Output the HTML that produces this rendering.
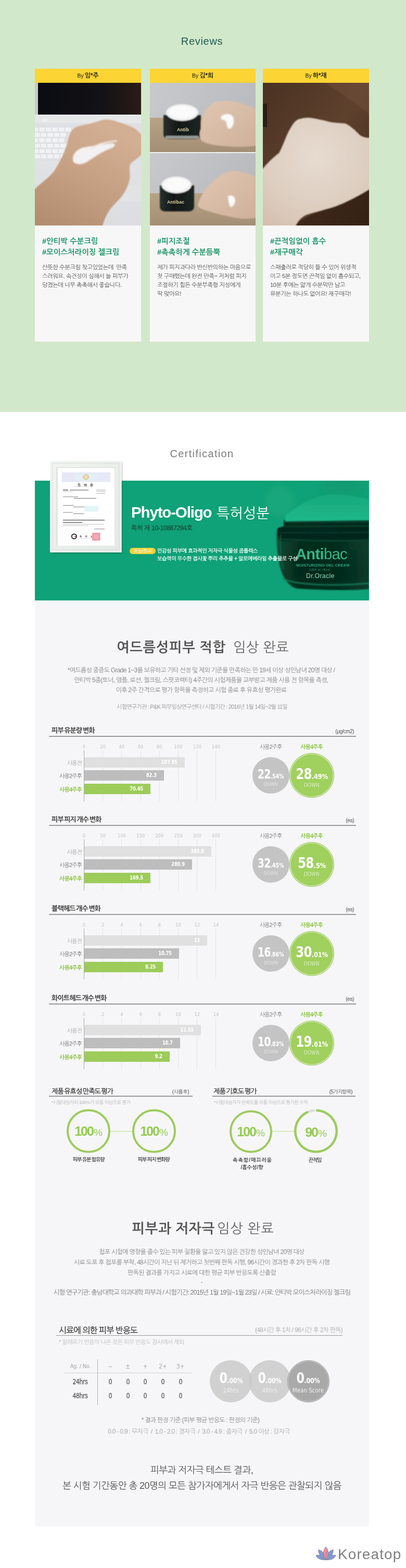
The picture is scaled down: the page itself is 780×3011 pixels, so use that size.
<!DOCTYPE html>
<html lang="ko">
<head>
<meta charset="utf-8">
<title>Antibac Reviews &amp; Certification</title>
<style>
*{margin:0;padding:0;box-sizing:border-box}
html,body{width:780px;height:3011px;overflow:hidden;background:#fff}
body{position:relative;font-family:"Liberation Sans","NanumGothic","Noto Sans CJK KR",sans-serif;color:#555}
.a{position:absolute}
.kr{font-family:"Liberation Sans","NanumGothic","Noto Sans CJK KR",sans-serif}
.num{font-family:"DejaVu Sans","Liberation Sans",sans-serif;font-stretch:condensed}
/* reviews */
#rev{left:0;top:0;width:780px;height:791px;background:#d2e8ca}
#rev h2{position:absolute;left:0;width:776px;top:68px;text-align:center;font-size:20px;font-weight:normal;color:#1d5a51;letter-spacing:0.7px}
.card{position:absolute;top:132px;width:204px;height:524px;background:#f7f7f7}
.card .hd{position:absolute;left:0;top:0;width:100%;height:27px;background:#fcd434;text-align:center;font-size:10.5px;line-height:27px;color:#1a1a1a;word-spacing:-2px}
.card .hd b{font-weight:bold;font-size:12px;margin-left:1px;letter-spacing:-0.2px}
.card .ph{position:absolute;left:0;top:27px;width:100%;height:274px;overflow:hidden}
.card .tags{position:absolute;left:14px;top:321px;font-size:14.5px;font-weight:bold;color:#1a9468;line-height:21px;white-space:nowrap}
.card .txt{position:absolute;left:14px;top:373px;width:186px;font-size:11.2px;line-height:17px;color:#555;white-space:nowrap;letter-spacing:-0.4px}

/* certification */
#certT{left:0;width:776px;top:860px;text-align:center;font-size:20px;color:#7b7b7b;letter-spacing:1.35px}
#banner{left:67px;top:923px;width:642px;height:230px;background:#0fa177;overflow:hidden}
#frame{left:96px;top:885px;width:137px;height:176px;background:#eef1ee;box-shadow:3px 3px 8px rgba(0,0,0,0.25);border:1px solid #e2e6e2}
#frame .mat{position:absolute;left:9px;top:10px;width:117px;height:154px;background:#fbfcfb;box-shadow:inset 1px 1px 3px rgba(0,0,0,0.15)}
#frame .paper{position:absolute;left:15px;top:13px;width:107px;height:149px;background:#fff}
#phyto{left:252px;top:967px;font-size:29.6px;font-weight:bold;color:#fff;white-space:nowrap;letter-spacing:-1.2px;font-family:"Liberation Sans","NanumGothic",sans-serif}
#phyto span{font-weight:normal;font-size:27px;letter-spacing:0;position:absolute;left:164px;top:2px}
#patno{left:252px;top:1006.5px;font-size:12px;color:#1b4a3b;white-space:nowrap;letter-spacing:-0.3px;-webkit-text-stroke:0.25px #1b4a3b}
#badge{left:249px;top:1052px;width:50px;height:12px;border-radius:6px;background:#f3d23b;color:#fff;font-size:9px;line-height:12px;text-align:center;letter-spacing:-0.3px}
#effect{left:302px;top:1050px;font-size:10px;line-height:15px;color:#fff;white-space:nowrap;letter-spacing:-0.35px;-webkit-text-stroke:0.25px #fff}
/* grey panel */
#panel{left:67px;top:1153px;width:642px;height:1778px;background:#f6f6f8}

.c{text-align:center;line-height:20px;white-space:nowrap}
.ct{font-size:13px;font-weight:bold;color:#333;white-space:nowrap;line-height:16px;letter-spacing:-0.8px;word-spacing:-1.5px}
.cu{font-size:10px;color:#555;white-space:nowrap;line-height:14px;text-align:right;width:100px;letter-spacing:-0.5px}
.ul{height:2px;background:#9a9a9a}
.tk{font-family:"DejaVu Sans Condensed","DejaVu Sans",sans-serif;font-size:9.5px;color:#c4c4c4;width:30px;text-align:center;line-height:12px}
.vl{width:1px;background:#e4e4e6}
.ax{width:1px;background:#a9a9a9}
.bar{height:20px}
.b0{background:#e0e0e0}.b1{background:#bdbdbd}.b2{background:#9dcc5a}
.bl{font-size:11px;width:70px;text-align:right;line-height:14px;letter-spacing:-0.9px;white-space:nowrap}
.bv{font-family:"DejaVu Sans Condensed","DejaVu Sans",sans-serif;font-weight:bold;font-size:11px;color:#fff;width:60px;text-align:right;line-height:14px;letter-spacing:-0.2px;transform:scaleX(0.85);transform-origin:100% 50%}
.cl{font-size:11px;width:80px;text-align:center;line-height:14px;letter-spacing:-1px;white-space:nowrap}
.circ{border-radius:50%}
.cg{background:#c4c4c4}
.cgr{background:#a0d05d;border:1.8px solid #92c252;box-shadow:inset 0 0 0 1.3px #e2f1cf}
.cn{font-family:"DejaVu Sans Condensed","DejaVu Sans",sans-serif;font-weight:bold;color:#fff;text-align:center;white-space:nowrap;letter-spacing:-0.8px;transform:scaleX(0.88)}
.cn small{font-size:0.5em;letter-spacing:-0.2px}
.dn{font-family:"DejaVu Sans Condensed","DejaVu Sans",sans-serif;text-align:center;font-size:9px;line-height:10px;letter-spacing:0}


.h1{font-size:26px;color:#555;letter-spacing:0.8px}
.h1 b{color:#555}
.h1 span{color:#666;font-weight:normal;margin-left:8px;letter-spacing:0.4px}
.p12{font-size:12px;color:#8a8a8a;letter-spacing:-0.72px}
.p11{font-size:11px;color:#9a9a9a;letter-spacing:-0.77px}


.ring{border-radius:50%;border:4.5px solid #9dcb5e}
.pc{font-family:"Liberation Sans",sans-serif;font-weight:bold;color:#95cb54;text-align:center;white-space:nowrap;letter-spacing:-2px;font-size:25px;line-height:28px}
.pc small{font-weight:normal;font-size:19px;letter-spacing:0;margin-left:1px}
.hl{height:1px;background:#b7da8f}
.sl{font-size:10px;font-weight:bold;color:#4a4a4a;text-align:center;white-space:nowrap;letter-spacing:-1.2px;word-spacing:0px;line-height:14px;width:120px}
.note{font-size:9px;color:#b5b5b5;white-space:nowrap;letter-spacing:-0.5px;line-height:12px}


.tt{font-size:16px;color:#333;white-space:nowrap;letter-spacing:-1px;line-height:20px;-webkit-text-stroke:0.25px #333}
.tr{font-size:12px;color:#b0b0b0;white-space:nowrap;letter-spacing:-0.75px;line-height:14px;text-align:right;width:200px}
.th{font-family:"DejaVu Sans Condensed","DejaVu Sans",sans-serif;font-size:11px;color:#a8a8a8;text-align:center;width:50px;line-height:14px}
.td{font-family:"DejaVu Sans Condensed","DejaVu Sans",sans-serif;font-weight:normal;font-size:14px;color:#6a6a6a;text-align:center;width:50px;line-height:16px;transform:scaleX(0.88);-webkit-text-stroke:0.45px #6a6a6a}
.gc{border-radius:50%;background:rgba(200,200,200,0.8)}
.gc2{border-radius:50%;background:#a9a9a9;border:1.5px solid #9c9c9c;box-shadow:inset 0 0 0 1px #d5d5d5}
.gn{font-family:"DejaVu Sans Condensed","DejaVu Sans",sans-serif;font-weight:bold;color:#fff;text-align:center;white-space:nowrap;letter-spacing:-0.8px;transform:scaleX(0.88);font-size:28px;line-height:30px}
.gn small{font-size:0.5em;letter-spacing:-0.2px}
.gs{font-family:"DejaVu Sans Condensed","DejaVu Sans",sans-serif;color:#eee;text-align:center;white-space:nowrap;font-size:11.5px;line-height:14px}
</style>
</head>
<body>
<div id="rev" class="a">
  <h2>Reviews</h2>
  <div class="card" style="left:67px">
    <div class="hd">By <b>임*주</b></div>
    <div class="ph" id="ph1"><svg width="204" height="274" viewBox="0 0 204 274" style="display:block">
<defs>
<filter id="bl2" x="-20%" y="-20%" width="140%" height="140%"><feGaussianBlur stdDeviation="1.6"/></filter>
<filter id="bl1" x="-20%" y="-20%" width="140%" height="140%"><feGaussianBlur stdDeviation="0.8"/></filter>
<linearGradient id="scr1" x1="0" x2="1"><stop offset="0" stop-color="#0b0c12"/><stop offset="0.6" stop-color="#121116"/><stop offset="1" stop-color="#2a1b16"/></linearGradient>
<linearGradient id="sk1" x1="0.7" y1="0.1" x2="0.2" y2="1"><stop offset="0" stop-color="#d2ae92"/><stop offset="0.45" stop-color="#c7a184"/><stop offset="1" stop-color="#b38d70"/></linearGradient>
<linearGradient id="lap1" x1="0" y1="0" x2="0" y2="1"><stop offset="0" stop-color="#e8e9eb"/><stop offset="1" stop-color="#dcdde0"/></linearGradient>
</defs>
<rect width="204" height="274" fill="url(#lap1)"/>
<rect x="0" y="0" width="6" height="62" fill="#c9cacc"/>
<rect x="6" y="0" width="198" height="61" fill="url(#scr1)"/>
<rect x="0" y="61" width="204" height="15" fill="#e6e7e9"/>
<rect x="14" y="69" width="10" height="6" rx="1.5" fill="#eeeff1"/>
<rect x="0" y="78" width="204" height="72" fill="#dfe0e3"/>
<rect x="-4.0" y="86.0" width="10.5" height="7.5" rx="1" fill="#f1f2f4"/><rect x="8.5" y="86.0" width="10.5" height="7.5" rx="1" fill="#f1f2f4"/><rect x="21.0" y="86.0" width="10.5" height="7.5" rx="1" fill="#f1f2f4"/><rect x="33.5" y="86.0" width="10.5" height="7.5" rx="1" fill="#f1f2f4"/><rect x="46.0" y="86.0" width="10.5" height="7.5" rx="1" fill="#f1f2f4"/><rect x="58.5" y="86.0" width="10.5" height="7.5" rx="1" fill="#f1f2f4"/><rect x="-1.0" y="96.3" width="10.5" height="7.5" rx="1" fill="#f1f2f4"/><rect x="11.5" y="96.3" width="10.5" height="7.5" rx="1" fill="#f1f2f4"/><rect x="24.0" y="96.3" width="10.5" height="7.5" rx="1" fill="#f1f2f4"/><rect x="36.5" y="96.3" width="10.5" height="7.5" rx="1" fill="#f1f2f4"/><rect x="49.0" y="96.3" width="10.5" height="7.5" rx="1" fill="#f1f2f4"/><rect x="-4.0" y="106.6" width="10.5" height="7.5" rx="1" fill="#f1f2f4"/><rect x="8.5" y="106.6" width="10.5" height="7.5" rx="1" fill="#f1f2f4"/><rect x="21.0" y="106.6" width="10.5" height="7.5" rx="1" fill="#f1f2f4"/><rect x="33.5" y="106.6" width="10.5" height="7.5" rx="1" fill="#f1f2f4"/><rect x="46.0" y="106.6" width="10.5" height="7.5" rx="1" fill="#f1f2f4"/><rect x="-1.0" y="116.9" width="10.5" height="7.5" rx="1" fill="#f1f2f4"/><rect x="11.5" y="116.9" width="10.5" height="7.5" rx="1" fill="#f1f2f4"/><rect x="24.0" y="116.9" width="10.5" height="7.5" rx="1" fill="#f1f2f4"/><rect x="36.5" y="116.9" width="10.5" height="7.5" rx="1" fill="#f1f2f4"/><rect x="49.0" y="116.9" width="10.5" height="7.5" rx="1" fill="#f1f2f4"/><rect x="-4.0" y="127.2" width="10.5" height="7.5" rx="1" fill="#f1f2f4"/><rect x="8.5" y="127.2" width="10.5" height="7.5" rx="1" fill="#f1f2f4"/><rect x="21.0" y="127.2" width="10.5" height="7.5" rx="1" fill="#f1f2f4"/><rect x="33.5" y="127.2" width="10.5" height="7.5" rx="1" fill="#f1f2f4"/><rect x="46.0" y="127.2" width="10.5" height="7.5" rx="1" fill="#f1f2f4"/><rect x="-1.0" y="137.5" width="10.5" height="7.5" rx="1" fill="#f1f2f4"/><rect x="11.5" y="137.5" width="10.5" height="7.5" rx="1" fill="#f1f2f4"/><rect x="24.0" y="137.5" width="10.5" height="7.5" rx="1" fill="#f1f2f4"/><rect x="36.5" y="137.5" width="10.5" height="7.5" rx="1" fill="#f1f2f4"/><rect x="49.0" y="137.5" width="10.5" height="7.5" rx="1" fill="#f1f2f4"/>
<rect x="165" y="196" width="40" height="32" fill="#e2e3e5"/>
<g filter="url(#bl1)">
<path d="M0,204 C12,192 28,182 38,168 C48,152 56,136 62,118 C66,98 70,88 82,84 C95,80 112,78 124,73 C134,69 146,70 156,74 C168,78 182,82 192,88 C200,93 204,100 212,106 L212,132 C200,142 190,150 184,155 C180,162 184,172 182,185 C179,200 172,214 158,228 C146,240 136,250 128,282 L-8,282 L-8,204 Z" fill="url(#sk1)"/>
</g>
<g filter="url(#bl2)">
<path d="M74,152 C70,140 78,128 94,124 C110,121 130,118 146,116 C156,115 156,121 148,125 C132,131 118,140 106,148 C96,156 82,160 74,152 Z" fill="#f4f1f2"/>
<path d="M108,126 C120,118 140,112 158,112" stroke="#efe4e0" stroke-width="3" fill="none"/>
</g>
</svg></div>
    <div class="tags">#안티박 수분크림<br>#모이스처라이징 젤크림</div>
    <div class="txt">산뜻한 수분크림 찾고있었는데&nbsp; 만족<br>스러워요. 속건성이 심해서 늘 피부가<br>당겼는데 너무 촉촉해서 좋습니다.</div>
  </div>
  <div class="card" style="left:288px;width:203px">
    <div class="hd">By <b>김*희</b></div>
    <div class="ph" id="ph2"><svg width="204" height="274" viewBox="0 0 204 274" style="display:block">
<defs>
<filter id="b2a" x="-20%" y="-20%" width="140%" height="140%"><feGaussianBlur stdDeviation="1"/></filter>
<filter id="b2b" x="-20%" y="-20%" width="140%" height="140%"><feGaussianBlur stdDeviation="1.8"/></filter>
<linearGradient id="wall2" x1="0" y1="0" x2="1" y2="0.3"><stop offset="0" stop-color="#c8c9cc"/><stop offset="1" stop-color="#babbbe"/></linearGradient>
<linearGradient id="tab2" x1="0" y1="0" x2="0" y2="1"><stop offset="0" stop-color="#b8a386"/><stop offset="1" stop-color="#a48e74"/></linearGradient>
<linearGradient id="sk2" x1="0" y1="0" x2="1" y2="1"><stop offset="0" stop-color="#e0c7b2"/><stop offset="1" stop-color="#cfb09a"/></linearGradient>
<linearGradient id="jar2" x1="0" y1="0" x2="1" y2="0"><stop offset="0" stop-color="#27302d"/><stop offset="0.4" stop-color="#111816"/><stop offset="1" stop-color="#1e2623"/></linearGradient>
</defs>
<rect width="204" height="133" fill="url(#wall2)"/>
<rect y="67" width="204" height="66" fill="url(#tab2)"/>
<g filter="url(#b2a)">
<path d="M26,62 L98,62 L98,100 C98,106 92,108 86,108 L38,108 C31,108 26,105 26,99 Z" fill="url(#jar2)"/>
<ellipse cx="62" cy="57" rx="31" ry="16" fill="#f2f2f2"/>
<ellipse cx="62" cy="56" rx="26" ry="12" fill="#fbfbfb"/>
<rect x="30" y="102" width="64" height="5" rx="2" fill="#cfd2d0" opacity="0.7"/>
<path d="M98,77 C100,62 108,48 122,38 C136,33 156,34 172,38 C186,43 198,48 212,52 L212,120 C190,123 170,124 150,122 C128,121 110,118 100,112 C94,104 95,95 98,88 Z" fill="url(#sk2)"/>
</g>
<text x="52" y="93" font-family="Liberation Sans,sans-serif" font-size="9" font-weight="bold" fill="#d8cf9a">Antib</text>
<g filter="url(#b2b)"><path d="M136,66 C142,58 156,58 160,66 C163,74 160,86 154,88 C148,90 148,80 146,74 C142,70 136,72 136,66 Z" fill="#fafafa"/></g>
<rect y="133" width="204" height="2" fill="#f2f2f2"/>
<rect y="135" width="204" height="77" fill="url(#wall2)"/>
<rect y="212" width="204" height="62" fill="url(#tab2)"/>
<g filter="url(#b2a)">
<path d="M19,197 L85,197 L85,238 C85,244 80,247 74,247 L30,247 C24,247 19,244 19,238 Z" fill="url(#jar2)"/>
<ellipse cx="51" cy="196" rx="29" ry="16" fill="#f2f2f2"/>
<ellipse cx="51" cy="195" rx="24" ry="12" fill="#fbfbfb"/>
<path d="M92,234 C96,222 104,206 118,192 C130,180 146,170 160,169 C176,169 192,176 212,184 L212,258 C190,262 172,262 154,257 C136,254 116,248 102,243 C95,240 92,238 92,234 Z" fill="url(#sk2)"/>
</g>
<text x="33" y="232" font-family="Liberation Sans,sans-serif" font-size="9" font-weight="bold" fill="#d8cf9a">Antibac</text>
<g filter="url(#b2b)"><path d="M150,218 C156,214 164,218 164,226 C163,234 158,240 154,238 C152,232 150,226 150,218 Z" fill="#fafafa"/></g>
</svg></div>
    <div class="tags">#피지조절<br>#촉촉하게 수분듬뿍</div>
    <div class="txt">제가 피지과다라 반신반의하는 마음으로<br>첫 구매했는데 완전 만족~ 저처럼 피지<br>조절하기 힘든 수분부족형 지성에게<br>딱 맞아요!</div>
  </div>
  <div class="card" style="left:505px">
    <div class="hd">By <b>하*재</b></div>
    <div class="ph" id="ph3"><svg width="204" height="274" viewBox="0 0 204 274" style="display:block">
<defs>
<filter id="b3a" x="-20%" y="-20%" width="140%" height="140%"><feGaussianBlur stdDeviation="1.2"/></filter>
<linearGradient id="wood3" x1="0" y1="0" x2="1" y2="1"><stop offset="0" stop-color="#4a3122"/><stop offset="0.5" stop-color="#5e412d"/><stop offset="1" stop-color="#43291b"/></linearGradient>
<radialGradient id="sk3" cx="0.5" cy="0.35" r="0.8"><stop offset="0" stop-color="#e6dbd0"/><stop offset="0.6" stop-color="#ddcdbf"/><stop offset="1" stop-color="#d3bcaa"/></radialGradient>
</defs>
<rect width="204" height="274" fill="url(#wood3)"/><path d="M60,274 C80,255 130,240 204,205 L204,274 Z" fill="#2a1a11" opacity="0.55"/>
<path d="M120,0 L204,0 L204,60 C180,40 150,20 120,0 Z" fill="#7a5a44" opacity="0.35"/><rect x="0" y="40" width="8" height="45" fill="#1c140f" opacity="0.7"/>
<g filter="url(#b3a)">
<path d="M0,165 C12,150 24,140 31,135 C40,118 46,98 52,89 C58,78 64,70 72,69 C80,67 88,66 96,68 C106,70 114,71 124,74 C134,77 146,77 158,78 C168,82 178,92 187,101 C194,105 200,106 212,106 L212,200 C200,208 186,216 176,221 C160,229 145,236 135,239 C120,244 100,248 83,254 C74,258 66,266 60,282 L-8,282 L-8,165 Z" fill="url(#sk3)"/>
</g>
</svg></div>
    <div class="tags">#끈적임없이 흡수<br>#재구매각</div>
    <div class="txt">스패출러로 적당히 뜰 수 있어 위생적<br>이고 5분 정도면 끈적임 없이 흡수되고,<br>10분 후에는 얇게 수분막만 남고<br>유분기는 하나도 없어요! 재구매각!</div>
  </div>
</div>

<div id="certT" class="a">Certification</div>
<div id="banner" class="a"><svg class="a" style="left:440px;top:0px" width="202" height="230" viewBox="440 0 202 230">
<defs>
<filter id="jb1" x="-20%" y="-20%" width="140%" height="140%"><feGaussianBlur stdDeviation="6"/></filter>
<filter id="jb2" x="-20%" y="-20%" width="140%" height="140%"><feGaussianBlur stdDeviation="1.2"/></filter>
<linearGradient id="jbody" x1="0" y1="0" x2="1" y2="0"><stop offset="0" stop-color="#0b4f3a"/><stop offset="0.25" stop-color="#06301f"/><stop offset="0.7" stop-color="#063222"/><stop offset="1" stop-color="#094230"/></linearGradient>
<linearGradient id="jbody2" x1="0" y1="0" x2="0" y2="1"><stop offset="0" stop-color="#000" stop-opacity="0"/><stop offset="0.75" stop-color="#000" stop-opacity="0.15"/><stop offset="1" stop-color="#000" stop-opacity="0.05"/></linearGradient>
<linearGradient id="jcream" x1="0" y1="0" x2="0" y2="1"><stop offset="0" stop-color="#16a97c"/><stop offset="1" stop-color="#20b88a"/></linearGradient>
</defs>
<g filter="url(#jb1)">
<ellipse cx="470" cy="40" rx="30" ry="30" fill="#18a87e" opacity="0.7"/>
<ellipse cx="590" cy="10" rx="40" ry="25" fill="#0b9a70" opacity="0.6"/>
</g>
<g filter="url(#jb2)">
<path d="M465,96 C468,90 474,88 480,88 L642,88 L642,208 C620,211 560,211 502,207 C484,201 474,181 470,161 C466,141 463,114 465,96 Z" fill="url(#jbody)"/>
<path d="M465,96 C468,90 474,88 480,88 L642,88 L642,208 C620,211 560,211 502,207 C484,201 474,181 470,161 C466,141 463,114 465,96 Z" fill="url(#jbody2)"/>
<path d="M466,92 C470,89 476,88 482,88 L642,88 L642,116 L470,116 C466,110 465,100 466,92 Z" fill="#05281b"/>
<path d="M478,76 L642,74 L642,90 L478,92 Z" fill="#052a1c"/>
<path d="M478,80 L642,79" stroke="#0e4f39" stroke-width="1.6"/>
<path d="M479,88 L642,87" stroke="#0c4a35" stroke-width="1.6"/>
<path d="M470,100 L642,99" stroke="#0b4331" stroke-width="1.4"/>
<path d="M469,112 C520,116 600,116 642,114" stroke="#0f523c" stroke-width="1.4" fill="none"/>
<path d="M482,66 C500,52 530,30 565,27 C590,25 615,30 642,36 L642,76 L481,78 Z" fill="url(#jcream)"/>
<path d="M476,188 C500,201 580,203 642,197" stroke="#1a7a5a" stroke-width="3" fill="none" opacity="0.8"/>
<path d="M472,104 C470,124 472,150 478,170" stroke="#1b7a5b" stroke-width="2" fill="none" opacity="0.6"/>
</g>
<text x="501" y="151" font-family="Liberation Sans,sans-serif" font-size="29" fill="#36b487" letter-spacing="-0.6"><tspan font-weight="bold">Anti</tspan><tspan font-weight="normal">bac</tspan></text>
<text x="502" y="164.5" font-family="Liberation Sans,sans-serif" font-size="7.4" font-weight="bold" fill="#2ea47b" letter-spacing="0.1">MOISTURIZING GEL CREAM</text>
<text x="527" y="173" font-family="Liberation Sans,sans-serif" font-size="5" fill="#3a9a78">1.69 fl. oz. / 50 ml</text>
<text x="521" y="186.5" font-family="Liberation Sans,sans-serif" font-size="12.5" fill="#8fd1b6" letter-spacing="0.2">Dr.Oracle</text>
</svg></div>
<svg class="a" style="left:96px;top:884px" width="140" height="180" viewBox="0 0 140 180">
<defs>
<filter id="fsh" x="-20%" y="-20%" width="140%" height="140%"><feGaussianBlur stdDeviation="2.2"/></filter>
<linearGradient id="fr" x1="0" y1="0" x2="1" y2="1"><stop offset="0" stop-color="#f1f4f1"/><stop offset="1" stop-color="#e4e9e4"/></linearGradient>
</defs>
<rect x="3" y="3" width="136" height="175" fill="#000" opacity="0.28" filter="url(#fsh)"/>
<rect x="0.5" y="1" width="136.5" height="175" fill="url(#fr)"/>
<rect x="0.5" y="1" width="136.5" height="175" fill="none" stroke="#fafcfa" stroke-width="1.5"/>
<rect x="4.5" y="5.5" width="128" height="166" fill="none" stroke="#d9dfd9" stroke-width="1"/>
<rect x="12" y="13" width="113" height="152" fill="#dfe4df"/>
<rect x="14.5" y="14.5" width="110" height="150" fill="#f6f8f6"/>
<rect x="16" y="15.5" width="107" height="147.5" fill="#fff"/>
<rect x="22.6" y="23" width="93.5" height="18.5" fill="#e7e8f7"/><ellipse cx="69" cy="32" rx="24" ry="8" fill="#e3eef6"/><circle cx="69" cy="32" r="5.2" fill="#e9dcae" stroke="#c8b27a" stroke-width="0.8"/><text x="69" y="50" font-family="Liberation Sans,NanumGothic,sans-serif" font-size="6.5" font-weight="bold" fill="#333" text-anchor="middle" letter-spacing="2">특 허 증</text><rect x="44.0" y="49.7" width="35.0" height="0.6" fill="#c8c8c8"/><rect x="25.0" y="56.4" width="10.0" height="1.3" fill="#444"/><rect x="38.0" y="56.5" width="36.0" height="1.1" fill="#666"/><rect x="89.0" y="56.6" width="18.0" height="0.8" fill="#888"/><rect x="25.0" y="59.6" width="19.0" height="0.7" fill="#aaa"/><rect x="89.0" y="59.6" width="18.0" height="0.7" fill="#999"/><rect x="89.0" y="63.1" width="18.0" height="0.7" fill="#999"/><rect x="25.0" y="69.5" width="29.0" height="0.9" fill="#777"/><rect x="46.0" y="72.5" width="43.0" height="1.0" fill="#666"/><rect x="25.0" y="86.0" width="21.0" height="0.9" fill="#777"/><rect x="45.0" y="89.0" width="21.0" height="0.9" fill="#777"/><rect x="25.0" y="99.5" width="19.0" height="0.9" fill="#777"/><rect x="45.0" y="102.0" width="21.0" height="0.9" fill="#777"/><rect x="25.0" y="114.1" width="80.0" height="1.3" fill="#555"/><rect x="25.0" y="118.6" width="37.0" height="1.3" fill="#555"/><rect x="25.0" y="122.3" width="79.0" height="0.7" fill="#aaa"/><rect x="25.0" y="125.3" width="49.0" height="0.7" fill="#aaa"/><rect x="85.0" y="131.3" width="20.0" height="1.0" fill="#888"/><rect x="66" y="87.5" width="27" height="11" fill="#e2f5f8"/><circle cx="46.4" cy="146" r="4.6" fill="none" stroke="#333" stroke-width="2"/><path d="M46,146 l4,-1 l0,3 z" fill="#d33"/><text x="57" y="148" font-family="Liberation Sans,NanumGothic,sans-serif" font-size="4.5" font-weight="bold" fill="#444" letter-spacing="2.5">특 허 청</text><rect x="57.0" y="149.8" width="23.0" height="0.5" fill="#bbb"/><rect x="81" y="139" width="15.7" height="15.2" fill="#f2a9b6"/><rect x="83" y="141" width="11.7" height="11.2" fill="none" stroke="#e57f95" stroke-width="0.8"/>
</svg>
<div id="phyto" class="a">Phyto-Oligo<span>특허성분</span></div>
<div id="patno" class="a">특허 제 10-10887294호</div>
<div id="badge" class="a">효능/효과</div>
<div id="effect" class="a">민감성 피부에 효과적인 저자극 식물성 콤플렉스<br>보습력이 우수한 접시꽃 뿌리 추추물 + 알로에베라잎 추출물로 구성</div>
<div id="panel" class="a"></div>
<div class="a ct" style="left:99px;top:1395px;">피부 유분량 변화</div>
<div class="a cu" style="left:580px;top:1398px;">(μg/cm2)</div>
<div class="a ul" style="left:94px;top:1413px;width:590px"></div>
<div class="a tk" style="left:146.5px;top:1427.5px;">0</div>
<div class="a tk" style="left:182.7px;top:1427.5px;">20</div>
<div class="a vl" style="left:197px;top:1441px;height:98px"></div>
<div class="a tk" style="left:218.9px;top:1427.5px;">40</div>
<div class="a vl" style="left:233px;top:1441px;height:98px"></div>
<div class="a tk" style="left:255.1px;top:1427.5px;">60</div>
<div class="a vl" style="left:270px;top:1441px;height:98px"></div>
<div class="a tk" style="left:291.3px;top:1427.5px;">80</div>
<div class="a vl" style="left:306px;top:1441px;height:98px"></div>
<div class="a tk" style="left:327.5px;top:1427.5px;">100</div>
<div class="a vl" style="left:342px;top:1441px;height:98px"></div>
<div class="a tk" style="left:363.7px;top:1427.5px;">120</div>
<div class="a vl" style="left:378px;top:1441px;height:98px"></div>
<div class="a tk" style="left:399.9px;top:1427.5px;">140</div>
<div class="a vl" style="left:414px;top:1441px;height:98px"></div>
<div class="a ax" style="left:161px;top:1441px;height:98px"></div>
<div class="a bar b0" style="left:162px;top:1453.5px;width:193.0px"></div>
<div class="a bl" style="left:87px;top:1457.5px;color:#ababab;">사용전</div>
<div class="a bv" style="left:281px;top:1456.5px;">107.95</div>
<div class="a bar b1" style="left:162px;top:1479px;width:152.8px"></div>
<div class="a bl" style="left:87px;top:1483px;color:#777;">사용2주후</div>
<div class="a bv" style="left:240.8px;top:1482px;">82.3</div>
<div class="a bar b2" style="left:162px;top:1505px;width:126.9px"></div>
<div class="a bl" style="left:87px;top:1509px;color:#8cc43f;font-weight:bold;">사용4주후</div>
<div class="a bv" style="left:214.9px;top:1508px;">70.45</div>
<div class="a cl" style="left:480px;top:1426.5px;color:#808080">사용2주후</div>
<div class="a cl" style="left:558.5px;top:1426.5px;color:#8cc43f;font-weight:bold">사용4주후</div>
<div class="a circ cg" style="left:485.1px;top:1453.5px;width:70.6px;height:70.6px"></div>
<div class="a cn" style="left:480.4px;top:1469.8px;width:80px;font-size:24px;line-height:28px;margin-top:3px">22<small>.54%</small></div>
<div class="a dn" style="left:490.4px;top:1501.3px;width:60px;color:#e3e3e3">DOWN</div>
<div class="a circ cgr" style="left:556.0px;top:1446.0px;width:85.5px;height:85.5px"></div>
<div class="a cn" style="left:553.7px;top:1466.7px;width:90px;font-size:29px;line-height:32px;margin-top:3px">28<small>.49%</small></div>
<div class="a dn" style="left:568.7px;top:1503.2px;width:60px;color:#d9edc0;font-size:10px">DOWN</div>
<div class="a ct" style="left:99px;top:1566px;">피부 피지 개수 변화</div>
<div class="a cu" style="left:580px;top:1569px;">(ea)</div>
<div class="a ul" style="left:94px;top:1584px;width:590px"></div>
<div class="a tk" style="left:146.5px;top:1598.5px;">0</div>
<div class="a tk" style="left:182.7px;top:1598.5px;">50</div>
<div class="a vl" style="left:197px;top:1612px;height:98px"></div>
<div class="a tk" style="left:218.9px;top:1598.5px;">100</div>
<div class="a vl" style="left:233px;top:1612px;height:98px"></div>
<div class="a tk" style="left:255.1px;top:1598.5px;">150</div>
<div class="a vl" style="left:270px;top:1612px;height:98px"></div>
<div class="a tk" style="left:291.3px;top:1598.5px;">200</div>
<div class="a vl" style="left:306px;top:1612px;height:98px"></div>
<div class="a tk" style="left:327.5px;top:1598.5px;">250</div>
<div class="a vl" style="left:342px;top:1612px;height:98px"></div>
<div class="a tk" style="left:363.7px;top:1598.5px;">300</div>
<div class="a vl" style="left:378px;top:1612px;height:98px"></div>
<div class="a tk" style="left:399.9px;top:1598.5px;">400</div>
<div class="a vl" style="left:414px;top:1612px;height:98px"></div>
<div class="a ax" style="left:161px;top:1612px;height:98px"></div>
<div class="a bar b0" style="left:162px;top:1624.5px;width:244.0px"></div>
<div class="a bl" style="left:87px;top:1628.5px;color:#ababab;">사용전</div>
<div class="a bv" style="left:332px;top:1627.5px;">385.9</div>
<div class="a bar b1" style="left:162px;top:1650px;width:207.0px"></div>
<div class="a bl" style="left:87px;top:1654px;color:#777;">사용2주후</div>
<div class="a bv" style="left:295px;top:1653px;">280.9</div>
<div class="a bar b2" style="left:162px;top:1676px;width:127.0px"></div>
<div class="a bl" style="left:87px;top:1680px;color:#8cc43f;font-weight:bold;">사용4주후</div>
<div class="a bv" style="left:215px;top:1679px;">169.5</div>
<div class="a cl" style="left:480px;top:1597.5px;color:#808080">사용2주후</div>
<div class="a cl" style="left:558.5px;top:1597.5px;color:#8cc43f;font-weight:bold">사용4주후</div>
<div class="a circ cg" style="left:485.1px;top:1624.5px;width:70.6px;height:70.6px"></div>
<div class="a cn" style="left:480.4px;top:1640.8px;width:80px;font-size:24px;line-height:28px;margin-top:3px">32<small>.45%</small></div>
<div class="a dn" style="left:490.4px;top:1672.3px;width:60px;color:#e3e3e3">DOWN</div>
<div class="a circ cgr" style="left:556.0px;top:1617.0px;width:85.5px;height:85.5px"></div>
<div class="a cn" style="left:553.7px;top:1637.7px;width:90px;font-size:29px;line-height:32px;margin-top:3px">58<small>.5%</small></div>
<div class="a dn" style="left:568.7px;top:1674.2px;width:60px;color:#d9edc0;font-size:10px">DOWN</div>
<div class="a ct" style="left:99px;top:1737.4px;">블랙헤드 개수 변화</div>
<div class="a cu" style="left:580px;top:1740.4px;">(ea)</div>
<div class="a ul" style="left:94px;top:1755.4px;width:590px"></div>
<div class="a tk" style="left:146.5px;top:1769.9px;">0</div>
<div class="a tk" style="left:182.7px;top:1769.9px;">2</div>
<div class="a vl" style="left:197px;top:1783.4px;height:98px"></div>
<div class="a tk" style="left:218.9px;top:1769.9px;">4</div>
<div class="a vl" style="left:233px;top:1783.4px;height:98px"></div>
<div class="a tk" style="left:255.1px;top:1769.9px;">6</div>
<div class="a vl" style="left:270px;top:1783.4px;height:98px"></div>
<div class="a tk" style="left:291.3px;top:1769.9px;">8</div>
<div class="a vl" style="left:306px;top:1783.4px;height:98px"></div>
<div class="a tk" style="left:327.5px;top:1769.9px;">10</div>
<div class="a vl" style="left:342px;top:1783.4px;height:98px"></div>
<div class="a tk" style="left:363.7px;top:1769.9px;">12</div>
<div class="a vl" style="left:378px;top:1783.4px;height:98px"></div>
<div class="a tk" style="left:399.9px;top:1769.9px;">14</div>
<div class="a vl" style="left:414px;top:1783.4px;height:98px"></div>
<div class="a ax" style="left:161px;top:1783.4px;height:98px"></div>
<div class="a bar b0" style="left:162px;top:1795.9px;width:235.5px"></div>
<div class="a bl" style="left:87px;top:1799.9px;color:#ababab;">사용전</div>
<div class="a bv" style="left:323.5px;top:1798.9px;">13</div>
<div class="a bar b1" style="left:162px;top:1821.4px;width:181.5px"></div>
<div class="a bl" style="left:87px;top:1825.4px;color:#777;">사용2주후</div>
<div class="a bv" style="left:269.5px;top:1824.4px;">10.75</div>
<div class="a bar b2" style="left:162px;top:1847.4px;width:151.4px"></div>
<div class="a bl" style="left:87px;top:1851.4px;color:#8cc43f;font-weight:bold;">사용4주후</div>
<div class="a bv" style="left:239.4px;top:1850.4px;">8.25</div>
<div class="a cl" style="left:480px;top:1768.9px;color:#808080">사용2주후</div>
<div class="a cl" style="left:558.5px;top:1768.9px;color:#8cc43f;font-weight:bold">사용4주후</div>
<div class="a circ cg" style="left:485.1px;top:1795.9px;width:70.6px;height:70.6px"></div>
<div class="a cn" style="left:480.4px;top:1812.2px;width:80px;font-size:24px;line-height:28px;margin-top:3px">16<small>.86%</small></div>
<div class="a dn" style="left:490.4px;top:1843.7px;width:60px;color:#e3e3e3">DOWN</div>
<div class="a circ cgr" style="left:556.0px;top:1788.3px;width:85.5px;height:85.5px"></div>
<div class="a cn" style="left:553.7px;top:1809.1px;width:90px;font-size:29px;line-height:32px;margin-top:3px">30<small>.01%</small></div>
<div class="a dn" style="left:568.7px;top:1845.6px;width:60px;color:#d9edc0;font-size:10px">DOWN</div>
<div class="a ct" style="left:99px;top:1909px;">화이트헤드 개수 변화</div>
<div class="a cu" style="left:580px;top:1912px;">(ea)</div>
<div class="a ul" style="left:94px;top:1927px;width:590px"></div>
<div class="a tk" style="left:146.5px;top:1941.5px;">0</div>
<div class="a tk" style="left:182.7px;top:1941.5px;">2</div>
<div class="a vl" style="left:197px;top:1955px;height:98px"></div>
<div class="a tk" style="left:218.9px;top:1941.5px;">4</div>
<div class="a vl" style="left:233px;top:1955px;height:98px"></div>
<div class="a tk" style="left:255.1px;top:1941.5px;">6</div>
<div class="a vl" style="left:270px;top:1955px;height:98px"></div>
<div class="a tk" style="left:291.3px;top:1941.5px;">8</div>
<div class="a vl" style="left:306px;top:1955px;height:98px"></div>
<div class="a tk" style="left:327.5px;top:1941.5px;">10</div>
<div class="a vl" style="left:342px;top:1955px;height:98px"></div>
<div class="a tk" style="left:363.7px;top:1941.5px;">12</div>
<div class="a vl" style="left:378px;top:1955px;height:98px"></div>
<div class="a tk" style="left:399.9px;top:1941.5px;">14</div>
<div class="a vl" style="left:414px;top:1955px;height:98px"></div>
<div class="a ax" style="left:161px;top:1955px;height:98px"></div>
<div class="a bar b0" style="left:162px;top:1967.5px;width:224.3px"></div>
<div class="a bl" style="left:87px;top:1971.5px;color:#ababab;">사용전</div>
<div class="a bv" style="left:312.3px;top:1970.5px;">12.55</div>
<div class="a bar b1" style="left:162px;top:1993px;width:183.5px"></div>
<div class="a bl" style="left:87px;top:1997px;color:#777;">사용2주후</div>
<div class="a bv" style="left:271.5px;top:1996px;">10.7</div>
<div class="a bar b2" style="left:162px;top:2019px;width:163.7px"></div>
<div class="a bl" style="left:87px;top:2023px;color:#8cc43f;font-weight:bold;">사용4주후</div>
<div class="a bv" style="left:251.7px;top:2022px;">9.2</div>
<div class="a cl" style="left:480px;top:1940.5px;color:#808080">사용2주후</div>
<div class="a cl" style="left:558.5px;top:1940.5px;color:#8cc43f;font-weight:bold">사용4주후</div>
<div class="a circ cg" style="left:485.1px;top:1967.5px;width:70.6px;height:70.6px"></div>
<div class="a cn" style="left:480.4px;top:1983.8px;width:80px;font-size:24px;line-height:28px;margin-top:3px">10<small>.83%</small></div>
<div class="a dn" style="left:490.4px;top:2015.3px;width:60px;color:#e3e3e3">DOWN</div>
<div class="a circ cgr" style="left:556.0px;top:1960.0px;width:85.5px;height:85.5px"></div>
<div class="a cn" style="left:553.7px;top:1980.7px;width:90px;font-size:29px;line-height:32px;margin-top:3px">19<small>.61%</small></div>
<div class="a dn" style="left:568.7px;top:2017.2px;width:60px;color:#d9edc0;font-size:10px">DOWN</div>
<div class="a c h1" style="left:39.5px;width:700px;top:1232px;line-height:30px;top:1228px"><b>여드름성피부 적합</b><span style="margin-left:14px">임상 완료</span></div>
<div class="a c p12" style="left:36.5px;width:700px;top:1277px;">*여드름성 중증도 Grade 1~3을 보유하고 기타 선정 및 제외 기준을 만족하는 만 19세 이상 성인남녀 20명 대상 /</div>
<div class="a c p12" style="left:36.5px;width:700px;top:1295.6px;">안티박 5종(토너, 앰플, 로션, 젤크림, 스팟코렉터) 4주간의 시험제품을 교부받고 제품 사용 전 항목을 측정,</div>
<div class="a c p12" style="left:36.5px;width:700px;top:1314.6px;">이후 2주 간격으로 평가 항목을 측정하고 시험 종료 후 유효성 평가완료</div>
<div class="a c p11" style="left:38.0px;width:700px;top:1347px;">시험연구기관 : P&amp;K 피부임상연구센터 / 시험기간 : 2016년 1월 14일~2월 11일</div>
<div class="a ct" style="left:99px;top:2088px;font-weight:normal;color:#333;-webkit-text-stroke:0.3px #333">제품 유효성 만족도 평가</div>
<div class="a cu" style="left:263px;top:2090px;">(사용후)</div>
<div class="a ul" style="left:94px;top:2103.5px;width:276px"></div>
<div class="a note" style="left:99px;top:2110.5px;">*시험대상자의 100%가 보통 이상으로 평가</div>
<div class="a hl" style="left:212px;top:2171.5px;width:42px"></div>
<div class="a ring" style="left:128.2px;top:2130.2px;width:83.5px;height:83.5px"></div>
<div class="a pc" style="left:120px;top:2158px;width:100px">100<small>%</small></div>
<div class="a ring" style="left:254.2px;top:2130.2px;width:83.5px;height:83.5px"></div>
<div class="a pc" style="left:246px;top:2158px;width:100px">100<small>%</small></div>
<div class="a sl" style="left:110px;top:2220px;">피부 유분 함유량</div>
<div class="a sl" style="left:235px;top:2220px;">피부 피지 변화량</div>
<div class="a ct" style="left:410px;top:2088px;font-weight:normal;color:#333;-webkit-text-stroke:0.3px #333">제품 기호도 평가</div>
<div class="a cu" style="left:577px;top:2090px;word-spacing:-2.5px;letter-spacing:-0.7px">(5가지 항목)</div>
<div class="a ul" style="left:408px;top:2103.5px;width:275px"></div>
<div class="a note" style="left:411px;top:2110.5px;">*시험대상자가 만족도를 보통 이상으로 평가한 수치</div>
<div class="a hl" style="left:523px;top:2172px;width:42px"></div>
<div class="a ring" style="left:441.0px;top:2132.0px;width:82px;height:82px"></div>
<div class="a pc" style="left:432px;top:2159px;width:100px">100<small>%</small></div>
<svg class="a" style="left:563px;top:2127.5px" width="88" height="88" viewBox="0 0 88 88"><path d="M44.35,4.25 A39.75,39.75 0 1 1 29.11,7.14" fill="none" stroke="#9dcb5e" stroke-width="4.5"/><path d="M29.11,7.14 A39.75,39.75 0 0 1 41.92,4.30" fill="none" stroke="#dcdcdc" stroke-width="4.5"/></svg>
<div class="a pc" style="left:557px;top:2159.5px;width:100px">90<small>%</small></div>
<div class="a sl" style="left:425px;top:2221px;letter-spacing:0.9px">촉촉함/매끄러움</div>
<div class="a sl" style="left:424px;top:2235px;letter-spacing:0px">/흡수성/향</div>
<div class="a sl" style="left:545px;top:2221px;">끈적임</div>
<div class="a c h1" style="left:40.0px;width:700px;top:2347px;line-height:30px;top:2343.5px"><b>피부과 저자극</b><span style="margin-left:4px;letter-spacing:0.9px">임상 완료</span></div>
<div class="a c p12" style="left:37.5px;width:700px;top:2393.5px;">첩포 시험에 영향을 줄수 있는 피부 질환을 앓고 있지 않은 건강한 성인남녀 20명 대상</div>
<div class="a c p12" style="left:37.5px;width:700px;top:2413.5px;">시료 도포 후 첩포를 부착, 48시간이 지난 뒤 제거하고 첫번째 판독 시행, 96시간이 경과한 후 2차 판독 시행</div>
<div class="a c p12" style="left:37.5px;width:700px;top:2434px;">판독된 결과를 가지고 시료에 대한 평균 피부 반응도록 산출함</div>
<div class="a c p12" style="left:37.5px;width:700px;top:2452px;">-</div>
<div class="a c p12" style="left:38.0px;width:700px;top:2472px;font-size:12.5px;color:#7d7d7d;letter-spacing:-0.95px">시험 연구기관: 충남대학교 의과대학 피부과 / 시험기간: 2015년 1월 19일~1월 23일 / 시료: 안티박 모이스처라이징 젤크림</div>
<div class="a tt" style="left:113px;top:2544.5px;">시료에 의한 피부 반응도</div>
<div class="a tr" style="left:458px;top:2546.5px;">(48시간 후 1차 / 96시간 후 2차 판독)</div>
<div class="a ul" style="left:108px;top:2563.5px;width:550px;height:1.5px"></div>
<div class="a note" style="left:113px;top:2570px;font-size:11px;color:#c0c0c0;line-height:14px">* 알레르기 반응이 나온 것은 피부 반응도 검사에서 제외</div>
<div class="a ax" style="left:187px;top:2609.5px;height:88px;background:#b0b0b0"></div>
<div class="a hl" style="left:124px;top:2636px;width:245px;background:#d0d0d0"></div>
<div class="a th" style="left:129.4px;top:2616.6px;letter-spacing:-0.3px">Ag. / No.</div>
<div class="a th" style="left:187px;top:2616.6px;font-size:12px">&minus;</div>
<div class="a th" style="left:220.5px;top:2616.6px;font-size:12px">&plusmn;</div>
<div class="a th" style="left:254px;top:2616.6px;font-size:12px">+</div>
<div class="a th" style="left:288px;top:2616.6px;font-size:12px">2+</div>
<div class="a th" style="left:321.7px;top:2616.6px;font-size:12px">3+</div>
<div class="a td" style="left:129.4px;top:2645px;font-size:13.5px;letter-spacing:-0.3px">24hrs</div>
<div class="a td" style="left:187px;top:2645px;">0</div>
<div class="a td" style="left:220.5px;top:2645px;">0</div>
<div class="a td" style="left:254px;top:2645px;">0</div>
<div class="a td" style="left:288px;top:2645px;">0</div>
<div class="a td" style="left:321.7px;top:2645px;">0</div>
<div class="a td" style="left:129.4px;top:2671.5px;font-size:13.5px;letter-spacing:-0.3px">48hrs</div>
<div class="a td" style="left:187px;top:2671.5px;">0</div>
<div class="a td" style="left:220.5px;top:2671.5px;">0</div>
<div class="a td" style="left:254px;top:2671.5px;">0</div>
<div class="a td" style="left:288px;top:2671.5px;">0</div>
<div class="a td" style="left:321.7px;top:2671.5px;">0</div>
<div class="a gc" style="left:403.0px;top:2611.5px;width:81px;height:81px"></div>
<div class="a gc" style="left:477.5px;top:2611.5px;width:81px;height:81px"></div>
<div class="a gc2" style="left:551.5px;top:2611.5px;width:81px;height:81px"></div>
<div class="a gn" style="left:403.5px;top:2632px;width:80px">0<small>.00%</small></div>
<div class="a gs" style="left:403.5px;top:2663px;width:80px">24hrs</div>
<div class="a gn" style="left:478px;top:2632px;width:80px">0<small>.00%</small></div>
<div class="a gs" style="left:478px;top:2663px;width:80px">48hrs</div>
<div class="a gn" style="left:552px;top:2632px;width:80px">0<small>.00%</small></div>
<div class="a gs" style="left:552px;top:2663px;width:80px">Mean Score</div>
<div class="a c p12" style="left:35.0px;width:700px;top:2716.5px;">* 결과 판정 기준 (피부 평균 반응도 : 판정의 기준)</div>
<div class="a c p12" style="left:32.0px;width:700px;top:2739px;font-size:12px;color:#aaa;letter-spacing:-0.7px">0.0 - 0.9 : 무자극&nbsp; / &nbsp;1.0 - 2.0 : 경자극&nbsp; / &nbsp;3.0 - 4.9 : 중자극&nbsp; / &nbsp;5.0 이상 : 강자극</div>
<div class="a c" style="left:37.5px;width:700px;top:2812.5px;font-size:18px;color:#555;letter-spacing:-0.6px">피부과 저자극 테스트 결과,</div>
<div class="a c" style="left:38.0px;width:700px;top:2843px;font-size:18px;color:#555;letter-spacing:-0.6px">본 시험 기간동안 총 20명의 모든 참가자에게서 자극 반응은 관찰되지 않음</div>
<svg class="a" style="left:604px;top:2968px" width="44" height="30" viewBox="0 0 44 30">
<g stroke="#858585" stroke-width="0.9" stroke-linejoin="round">
<path d="M2.8,19.2 C8,16.5 18,19.5 22,27.2 C14,28.2 6,25.5 2.8,19.2 Z" fill="#7d9bd8"/>
<path d="M41.2,19.2 C36,16.5 26,19.5 22,27.2 C30,28.2 38,25.5 41.2,19.2 Z" fill="#7d9bd8"/>
<path d="M7.7,8 C14.5,8.8 21,16 22,27 C14,24.5 8,17.5 7.7,8 Z" fill="#7d9bd8"/>
<path d="M36.3,8 C29.5,8.8 23,16 22,27 C30,24.5 36,17.5 36.3,8 Z" fill="#7d9bd8"/>
<path d="M22.1,2.6 C27.8,8 28.6,20 22.1,27 C15.6,20 16.4,8 22.1,2.6 Z" fill="#f28b9d"/>
<path d="M25.8,9.5 C23,14 21,20 21.8,26.5" fill="none"/>
</g></svg>
<div class="a" style="left:649px;top:2969px;font-size:28px;line-height:32px;color:#7f7f7f;font-family:'Liberation Sans',sans-serif;letter-spacing:1.1px">Koreatop</div>
</body>
</html>
